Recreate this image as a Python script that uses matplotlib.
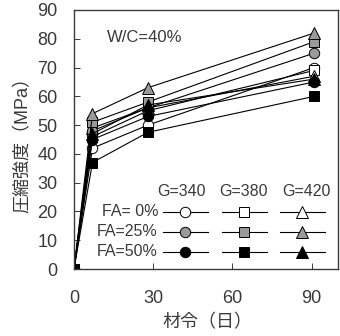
import matplotlib
matplotlib.use("Agg")
import matplotlib.pyplot as plt
from matplotlib.lines import Line2D

plt.rcParams['font.family'] = ['Liberation Sans', 'Noto Sans CJK JP']

# Age of concrete (days)
ages = [0, 7, 28, 91]

# Compressive strength (MPa), FA = fly ash replacement, G = coarse aggregate content
fa0_g340 = [0, 42, 50, 70]
fa0_g380 = [0, 46, 55, 69]
fa0_g420 = [0, 49, 56, 67]
fa25_g340 = [0, 48, 56, 75]
fa25_g380 = [0, 51, 58, 79]
fa25_g420 = [0, 54, 63, 82]
fa50_g340 = [0, 45, 53, 65]
fa50_g420 = [0, 47, 57, 66]
fa50_g380 = [0, 37, 47.5, 60]

col_labels = ["G=340", "G=380", "G=420"]
row_labels = ["FA= 0%", "FA=25%", "FA=50%"]

TXT = "#3a3a3a"
GRAY = "#9a9a9a"
series = [
    (fa0_g340, "o", "white"), (fa0_g380, "s", "white"), (fa0_g420, "^", "white"),
    (fa25_g340, "o", GRAY), (fa25_g380, "s", GRAY), (fa25_g420, "^", GRAY),
    (fa50_g340, "o", "black"), (fa50_g420, "^", "black"), (fa50_g380, "s", "black"),
]
marker_sizes = {"o": 7.5, "s": 7.5, "^": 8}

fig = plt.figure(figsize=(3.4, 3.36), dpi=100)
ax = fig.add_axes([74 / 340, 1 - 269 / 336, 264 / 340, 259 / 336])

for vals, mk, fc in series:
    ax.plot(ages, vals, color="black", lw=0.8, marker=mk, ms=marker_sizes[mk],
            mfc=fc, mec="black", mew=0.7)

ax.set_xlim(0, 100)
ax.set_ylim(0, 90)
ax.set_xticks([0, 30, 60, 90])
ax.set_yticks(range(0, 91, 10))
ax.tick_params(direction="in", length=4, width=0.7, labelsize=13,
               colors=TXT, labelcolor=TXT)
ax.tick_params(axis="y", pad=12)
ax.tick_params(axis="x", pad=15)
for s in ax.spines.values():
    s.set_linewidth(1.0)
    s.set_color(TXT)

fig.text(207 / 340, 1 - 323 / 336, "材令（日）", fontsize=13, color=TXT,
         ha="center", va="center")
fig.text(23 / 340, 1 - 140 / 336, "圧縮強度（MPa）", fontsize=13, color=TXT,
         ha="center", va="center", rotation=90)

ax.text(0.125, 0.893, "W/C=40%", transform=ax.transAxes, fontsize=12,
        color=TXT, va="center", ha="left")

# Legend grid: columns = G, rows = FA
col_x = [(181 - 74) / 264, (244 - 74) / 264, (306 - 74) / 264]
mark_x = [(185 - 74) / 264, (244 - 74) / 264, (302 - 74) / 264]
seg_half = 22.5 / 264
row_y = [(269 - 212) / 259, (269 - 232) / 259, (269 - 252) / 259]
head_y = (269 - 191.5) / 259
label_x = (158 - 74) / 264

for cx, t in zip(col_x, col_labels):
    ax.text(cx, head_y, t, transform=ax.transAxes, fontsize=11.5,
            color=TXT, ha="center", va="center")

fills = ["white", GRAY, "black"]
marks = ["o", "s", "^"]
for r, (ry, rl) in enumerate(zip(row_y, row_labels)):
    ax.text(label_x, ry, rl, transform=ax.transAxes, fontsize=11.5,
            color=TXT, ha="right", va="center")
    for c, mx in enumerate(mark_x):
        ax.add_line(Line2D([mx - seg_half, mx + seg_half], [ry, ry],
                           transform=ax.transAxes, color="black", lw=0.8))
        ax.add_line(Line2D([mx], [ry], transform=ax.transAxes, marker=marks[c],
                           ms=marker_sizes[marks[c]], mfc=fills[r], mec="black",
                           mew=0.7, lw=0))

fig.savefig("out.png", dpi=100)
